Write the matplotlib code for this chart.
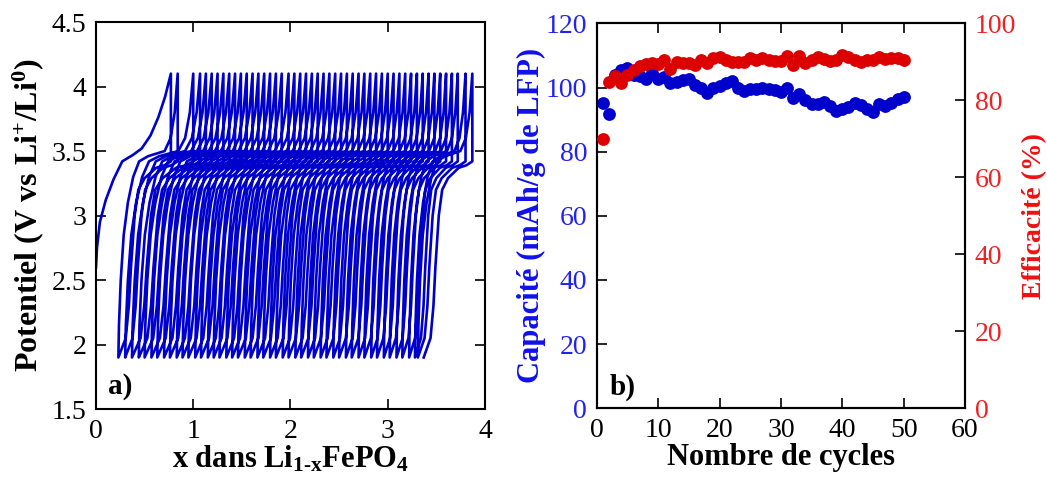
import numpy as np
import matplotlib.pyplot as plt

# ---- panel a) : galvanostatic cycling, x in Li1-xFePO4 ----
# first charge (from OCV)
first_charge_x = [0.00, 0.01, 0.04, 0.10, 0.18, 0.27, 0.38, 0.47, 0.56, 0.64, 0.71, 0.77]
first_charge_v = [2.60, 2.75, 2.95, 3.12, 3.28, 3.42, 3.47, 3.52, 3.62, 3.76, 3.92, 4.10]

# start of each charge (at 1.9 V) for cycles 2..50 plus the end of the last discharge,
# and end of each charge (at 4.1 V) for cycles 1..50
charge_start = [0.23, 0.30, 0.37, 0.44, 0.50, 0.57, 0.63, 0.70, 0.76, 0.83,
                0.89, 0.95, 1.02, 1.08, 1.15, 1.21, 1.27, 1.34, 1.40, 1.46,
                1.53, 1.59, 1.66, 1.72, 1.79, 1.85, 1.92, 1.98, 2.05, 2.11,
                2.18, 2.24, 2.31, 2.37, 2.44, 2.50, 2.57, 2.63, 2.70, 2.76,
                2.83, 2.89, 2.96, 3.02, 3.09, 3.15, 3.22, 3.28, 3.31, 3.37]
charge_end = [0.77, 0.84, 1.00, 1.07, 1.13, 1.19, 1.25, 1.31, 1.37, 1.43,
              1.49, 1.55, 1.61, 1.67, 1.73, 1.79, 1.85, 1.91, 1.98, 2.04,
              2.10, 2.16, 2.22, 2.28, 2.34, 2.40, 2.46, 2.52, 2.58, 2.64,
              2.70, 2.76, 2.82, 2.88, 2.94, 3.00, 3.06, 3.12, 3.18, 3.24,
              3.30, 3.36, 3.42, 3.48, 3.54, 3.60, 3.66, 3.72, 3.80, 3.87]

# profile shapes (fraction of the half-cycle, potential)
charge_frac = [0.00, 0.01, 0.04, 0.09, 0.16, 0.25, 0.35, 0.50, 0.78, 0.88, 0.95, 1.00]
charge_v    = [1.90, 2.15, 2.50, 2.85, 3.10, 3.30, 3.42, 3.46, 3.50, 3.60, 3.80, 4.10]
dis_frac = [0.00, 0.00, 0.12, 0.28, 0.50, 0.62, 0.69, 0.76, 0.80, 0.86, 1.00]
dis_v    = [4.10, 3.42, 3.39, 3.37, 3.29, 3.20, 3.00, 2.60, 2.30, 2.05, 1.90]

# ---- panel b) : capacity and efficiency ----
cycles = list(range(1, 51))
capacity = [95.2, 91.9, 104.0, 105.6, 106.0, 104.0, 103.5, 102.8, 104.5, 102.8,
            103.3, 101.4, 101.7, 102.5, 102.8, 100.7, 100.0, 98.3, 100.0, 100.4,
            101.4, 102.0, 99.9, 98.9, 99.4, 99.6, 99.9, 99.6, 99.3, 98.6,
            100.0, 96.6, 97.9, 96.2, 94.8, 95.0, 95.5, 94.2, 92.7, 93.4,
            94.0, 95.2, 94.5, 93.4, 92.4, 94.8, 94.2, 95.2, 96.3, 96.9]
efficiency = [69.9, 84.8, 86.3, 84.4, 86.6, 87.9, 88.9, 89.4, 89.6, 89.4,
              90.5, 88.1, 90.0, 89.8, 89.8, 89.2, 90.6, 89.7, 90.9, 91.2,
              90.4, 89.9, 89.9, 90.0, 90.9, 90.5, 90.9, 90.6, 90.1, 90.2,
              91.5, 89.2, 91.5, 89.8, 90.4, 91.3, 90.7, 90.1, 90.5, 91.8,
              91.2, 90.6, 89.9, 90.4, 90.6, 91.3, 90.7, 90.9, 90.9, 90.4]

plt.rcParams['font.family'] = ['Liberation Serif', 'DejaVu Serif']
plt.rcParams['mathtext.fontset'] = 'custom'
plt.rcParams['mathtext.rm'] = 'Liberation Serif:bold'
plt.rcParams['mathtext.bf'] = 'Liberation Serif:bold'
plt.rcParams['mathtext.it'] = 'Liberation Serif:bold'

line_blue = '#0000cc'
tick_fs = 20
label_fs = 22

fig = plt.figure(figsize=(10.47, 4.79), dpi=100)
ax1 = fig.add_axes([0.0917, 0.146, 0.3715, 0.808])
ax2 = fig.add_axes([0.570, 0.1476, 0.3517, 0.8036])

# build the continuous trace
xs = list(first_charge_x)
vs = list(first_charge_v)
cf = np.array(charge_frac)
df = np.array(dis_frac)
for i in range(len(charge_end)):
    p = charge_end[i]
    if i > 0:
        s = charge_start[i - 1]
        xs += list(s + cf * (p - s))
        vs += charge_v
    nxt = charge_start[i]
    xs += list(p - df * (p - nxt))
    vs += dis_v
ax1.plot(xs, vs, color=line_blue, lw=1.9)

ax1.set_xlim(0, 4)
ax1.set_ylim(1.5, 4.5)
ax1.set_xticks([0, 1, 2, 3, 4])
ax1.set_yticks([1.5, 2, 2.5, 3, 3.5, 4, 4.5])
ax1.set_yticklabels(['1.5', '2', '2.5', '3', '3.5', '4', '4.5'])
ax1.set_xlabel(r'x dans Li$_{1\text{-}x}$FePO$_{4}$', fontsize=label_fs, fontweight='bold', labelpad=0)
ax1.set_ylabel(r'Potentiel (V vs Li$^{+}$/Li$^{0}$)', fontsize=23, fontweight='bold', labelpad=4)
ax1.text(0.03, 0.04, 'a)', transform=ax1.transAxes, fontsize=21, fontweight='bold')

# panel b
blue_pt = '#0000cc'
red_pt = '#dd0000'
ax3 = ax2.twinx()
ax2.scatter(cycles, capacity, s=85, color=blue_pt, zorder=3, linewidths=0)
ax3.scatter(cycles, efficiency, s=85, color=red_pt, zorder=3, linewidths=0)
ax2.set_xlim(0, 60)
ax2.set_ylim(0, 120)
ax3.set_ylim(0, 100)
ax2.set_xticks(range(0, 61, 10))
ax2.set_yticks(range(0, 121, 20))
ax3.set_yticks(range(0, 101, 20))
ax2.set_xlabel('Nombre de cycles', fontsize=label_fs, fontweight='bold', labelpad=0)
ax2.set_ylabel('Capacité (mAh/g de LFP)', fontsize=label_fs, fontweight='bold', color='#1010ee', labelpad=0)
ax3.set_ylabel('Efficacité (%)', fontsize=20, fontweight='bold', color='#ee1010', labelpad=4)
ax2.tick_params(axis='y', colors='#2222ee', labelcolor='#2222ee')
ax3.tick_params(axis='y', colors='#ee2222', labelcolor='#ee2222')
ax2.text(0.035, 0.035, 'b)', transform=ax2.transAxes, fontsize=21, fontweight='bold')

for ax in (ax1, ax2):
    ax.tick_params(direction='in', top=True, length=7, width=1.2, labelsize=tick_fs, pad=7)
    for sp in ax.spines.values():
        sp.set_linewidth(1.5)
ax1.tick_params(right=True)
ax2.tick_params(axis='y', color='black')
ax3.tick_params(direction='in', length=7, width=1.2, labelsize=tick_fs, pad=7, color='black')
for sp in ax3.spines.values():
    sp.set_linewidth(1.5)

fig.savefig('out.png', dpi=100)
